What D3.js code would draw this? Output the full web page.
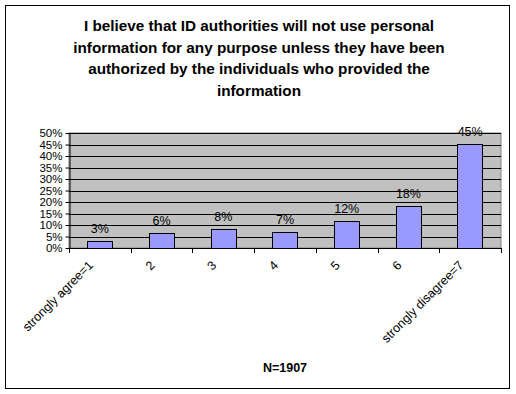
<!DOCTYPE html>
<html>
<head>
  <meta charset="utf-8">
  <script src="https://d3js.org/d3.v7.min.js"></script>
  <style>
    body { margin: 0; background: #fff; }
    text { font-family: "Liberation Sans", Arial, sans-serif; }
  </style>
</head>
<body>
  <div id="view"></div>
  <script>
    var categories = ["strongly agree=1", "2", "3", "4", "5", "6", "strongly disagree=7"];
    var values = [3.0, 6.4, 8.3, 6.8, 11.7, 18.1, 45.2];
    var valueLabels = ["3%", "6%", "8%", "7%", "12%", "18%", "45%"];
    var yTicks = [0, 5, 10, 15, 20, 25, 30, 35, 40, 45, 50];
    var titleLines = [
      "I believe that ID authorities will not use personal",
      "information for any purpose unless they have been",
      "authorized by the individuals who provided the",
      "information"
    ];
    var xTitle = "N=1907";

    var width = 516, height = 394;
    var plotLeft = 69, plotRight = 501, plotTop = 133, plotBottom = 248;

    var svg = d3.select("#view").append("svg")
      .attr("width", width)
      .attr("height", height);

    // outer frame
    svg.append("rect")
      .attr("x", 5.5).attr("y", 5.5)
      .attr("width", 504).attr("height", 383)
      .attr("fill", "#fff")
      .attr("stroke", "#000")
      .attr("stroke-width", 1);

    // title
    svg.append("g").selectAll("text")
      .data(titleLines)
      .join("text")
      .attr("x", 259)
      .attr("y", function (d, i) { return 31 + i * 21.7; })
      .attr("text-anchor", "middle")
      .attr("font-size", "15.3px")
      .attr("font-weight", "bold")
      .text(function (d) { return d; });

    var x = d3.scaleBand()
      .domain(categories)
      .range([plotLeft, plotRight])
      .paddingInner(0.59)
      .paddingOuter(0.295);

    var xOuter = d3.scaleBand()
      .domain(categories)
      .range([plotLeft, plotRight]);

    var y = d3.scaleLinear()
      .domain([0, 50])
      .range([plotBottom, plotTop]);

    // plot background
    svg.append("rect")
      .attr("x", plotLeft).attr("y", plotTop)
      .attr("width", plotRight - plotLeft).attr("height", plotBottom - plotTop)
      .attr("fill", "#c0c0c0")
      .attr("stroke", "#808080");

    // gridlines
    svg.append("g").selectAll("line")
      .data(yTicks.slice(1))
      .join("line")
      .attr("x1", plotLeft).attr("x2", plotRight)
      .attr("y1", function (d) { return Math.round(y(d)) + 0.5; })
      .attr("y2", function (d) { return Math.round(y(d)) + 0.5; })
      .attr("stroke", "#000");

    // y axis
    var yAxis = svg.append("g")
      .attr("transform", "translate(" + (plotLeft + 0.5) + ",0)")
      .call(d3.axisLeft(y).tickValues(yTicks).tickSize(4).tickSizeOuter(0)
        .tickFormat(function (d) { return d + "%"; }));
    yAxis.selectAll("text").attr("font-size", "11.5px").attr("fill", "#000")
      .attr("font-family", "'Liberation Sans', Arial, sans-serif");
    yAxis.selectAll("line").attr("stroke", "#000");
    yAxis.select("path").attr("stroke", "#000");

    // bars
    svg.append("g").selectAll("rect")
      .data(values)
      .join("rect")
      .attr("x", function (d, i) { return Math.round(x(categories[i])) + 0.5; })
      .attr("y", function (d) { return Math.round(y(d)) + 0.5; })
      .attr("width", Math.round(x.bandwidth()))
      .attr("height", function (d) { return Math.round(plotBottom - y(d)); })
      .attr("fill", "#9999ff")
      .attr("stroke", "#000");

    // value labels
    svg.append("g").selectAll("text")
      .data(values)
      .join("text")
      .attr("x", function (d, i) { return x(categories[i]) + x.bandwidth() / 2; })
      .attr("y", function (d) { return y(d) - 8; })
      .attr("text-anchor", "middle")
      .attr("font-size", "12.5px")
      .text(function (d, i) { return valueLabels[i]; });

    // x axis line and ticks
    var xg = svg.append("g");
    xg.append("line")
      .attr("x1", plotLeft).attr("x2", plotRight)
      .attr("y1", plotBottom + 0.5).attr("y2", plotBottom + 0.5)
      .attr("stroke", "#000");
    xg.selectAll("line.tick")
      .data(categories.concat(["end"]))
      .join("line")
      .attr("class", "tick")
      .attr("x1", function (d, i) { return Math.round(plotLeft + i * xOuter.step()) + 0.5; })
      .attr("x2", function (d, i) { return Math.round(plotLeft + i * xOuter.step()) + 0.5; })
      .attr("y1", plotBottom).attr("y2", plotBottom + 5)
      .attr("stroke", "#000");

    // category labels, rotated
    xg.selectAll("text")
      .data(categories)
      .join("text")
      .attr("text-anchor", "end")
      .attr("font-size", "12.5px")
      .attr("transform", function (d) {
        var cx = xOuter(d) + xOuter.bandwidth() / 2 - 6;
        return "translate(" + cx + "," + (plotBottom + 18) + ") rotate(-45)";
      })
      .text(function (d) { return d; });

    // x title
    svg.append("text")
      .attr("x", (plotLeft + plotRight) / 2)
      .attr("y", 372)
      .attr("text-anchor", "middle")
      .attr("font-size", "12.5px")
      .attr("font-weight", "bold")
      .text(xTitle);
  </script>
</body>
</html>
